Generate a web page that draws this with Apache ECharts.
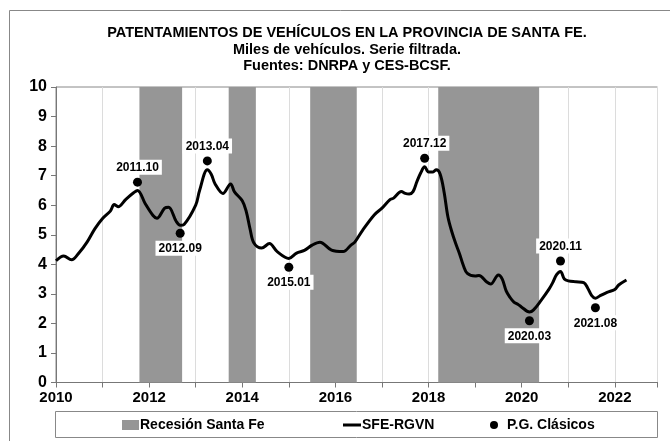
<!DOCTYPE html>
<html><head><meta charset="utf-8">
<script src="https://cdn.jsdelivr.net/npm/echarts@6/dist/echarts.min.js"></script>
<style>html,body{margin:0;padding:0;background:#fff}#c{width:670px;height:441px}</style>
</head><body><div id="c"></div>
<script>
const titleLines = ['PATENTAMIENTOS DE VEHÍCULOS EN LA PROVINCIA DE SANTA FE.', 'Miles de vehículos. Serie filtrada.', 'Fuentes: DNRPA y CES-BCSF.'];
const xTickLabels = ['2010','2012','2014','2016','2018','2020','2022'];
const xFirstMonth = '2010.01';
const xLastMonth = '2022.12';
const yMin = 0, yMax = 10, yStep = 1;

const seriesName = 'SFE-RGVN';
const months = ['2010.01','2010.03','2010.05','2010.07','2010.09','2010.11','2011.01','2011.03','2011.04','2011.05','2011.07','2011.09','2011.10','2011.12','2012.02','2012.03','2012.05','2012.06','2012.08','2012.09','2012.10','2013.01','2013.02','2013.04','2013.05','2013.06','2013.08','2013.10','2013.11','2014.01','2014.02','2014.03','2014.04','2014.06','2014.08','2014.10','2015.01','2015.03','2015.05','2015.07','2015.09','2015.12','2016.03','2016.05','2016.06','2016.08','2016.11','2017.01','2017.03','2017.04','2017.06','2017.07','2017.08','2017.09','2017.10','2017.11','2017.12','2018.01','2018.02','2018.03','2018.04','2018.05','2018.06','2018.07','2018.08','2018.09','2018.10','2018.11','2019.01','2019.02','2019.04','2019.05','2019.07','2019.08','2019.09','2019.10','2019.11','2019.12','2020.01','2020.03','2020.04','2020.06','2020.08','2020.09','2020.10','2020.11','2020.12','2021.01','2021.03','2021.05','2021.06','2021.07','2021.08','2021.09','2021.11','2022.01','2022.02','2022.04'];
const values = [4.12,4.28,4.15,4.4,4.75,5.2,5.55,5.8,6.02,5.95,6.2,6.42,6.5,6.05,5.65,5.56,5.9,5.93,5.45,5.32,5.35,6.0,6.5,7.2,7.05,6.72,6.4,6.72,6.45,6.15,5.8,5.2,4.72,4.55,4.7,4.43,4.2,4.38,4.47,4.65,4.75,4.48,4.43,4.65,4.75,5.15,5.67,5.9,6.18,6.24,6.46,6.4,6.38,6.46,6.8,7.1,7.3,7.12,7.12,7.2,7.05,6.45,5.6,5.1,4.7,4.35,3.95,3.69,3.6,3.62,3.4,3.33,3.64,3.5,3.1,2.88,2.72,2.65,2.55,2.39,2.45,2.78,3.15,3.38,3.65,3.76,3.5,3.44,3.41,3.38,3.2,2.95,2.85,2.92,3.05,3.15,3.3,3.47];

const pgName = 'P.G. Clásicos';
const pgMonths = ['2011.10','2012.09','2013.04','2015.01','2017.12','2020.03','2020.11','2021.08'];
const pgValues = [6.78,5.05,7.5,3.9,7.59,2.09,4.11,2.53];
const pgLabelSide = ['top','bottom','top','bottom','top','bottom','top','bottom'];

const recName = 'Recesión Santa Fe';
const recStart = ['2011.10','2013.09','2015.06','2018.03'];
const recEnd = ['2012.09','2014.04','2016.06','2020.05'];

function toYear(s){ const p = s.split('.').map(Number); return p[0] + (p[1]-1)/12; }
function toMid(s){ const p = s.split('.').map(Number); return p[0] + (p[1]-0.5)/12; }

const lineData = months.map((m,i)=>[toYear(m), values[i]]);
const pgData = pgMonths.map((m,i)=>({name:m, value:[toYear(m), pgValues[i]], label:{position:pgLabelSide[i]}}));
const recAreas = recStart.map((s,i)=>[{xAxis: toMid(s)}, {xAxis: toMid(recEnd[i])}]);

const FONT = 'Liberation Sans, Arial, sans-serif';
const legendText = {fontFamily:FONT, fontWeight:'bold', fontSize:14, color:'#000'};
const chart = echarts.init(document.getElementById('c'), null, {renderer:'canvas'});
chart.setOption({
  animation:false,
  backgroundColor:'#fff',
  title: titleLines.map((t,i)=>({
    text:t, left:347, textAlign:'center', top:[25,42,58][i], padding:0,
    textStyle:{fontFamily:FONT, fontWeight:'bold', fontSize:14.5, color:'#000'}
  })),
  graphic:[
    {type:'rect', shape:{x:9.5,y:10.5,width:700,height:500}, style:{fill:null, stroke:'#888', lineWidth:1}, silent:true},
    {type:'rect', shape:{x:55.5,y:411.5,width:602,height:26}, style:{fill:null, stroke:'#888', lineWidth:1}, silent:true}
  ],
  legend:[
    {data:[{name:recName, icon:'rect'}], left:122, top:418, itemWidth:17, itemHeight:10, itemGap:0, padding:0,
     textStyle:Object.assign({padding:[0,0,0,-4]}, legendText)},
    {data:[{name:seriesName, icon:'rect'}], left:343, top:418, itemWidth:18, itemHeight:3, itemGap:0, padding:0,
     itemStyle:{color:'#000'}, textStyle:Object.assign({padding:[0,0,0,-4]}, legendText)},
    {data:[{name:pgName, icon:'circle'}], left:490, top:418, itemWidth:16, itemHeight:8, itemGap:0, padding:0,
     itemStyle:{color:'#000', opacity:1}, textStyle:legendText}
  ],
  grid:{left:56, right:12.5, top:87, bottom:58.5, show:true, borderColor:'#888', borderWidth:1, backgroundColor:'#fff'},
  xAxis:{
    type:'value', min:toYear(xFirstMonth), max:toYear(xLastMonth), interval:1,
    axisLine:{show:true, lineStyle:{color:'#777', width:1}},
    axisTick:{show:true, length:5, lineStyle:{color:'#777'}},
    axisLabel:{show:true, margin:8, fontFamily:FONT, fontWeight:'bold', fontSize:15, color:'#000',
      formatter:(v)=>{ const s = String(Math.round(v*1000)/1000); return xTickLabels.includes(s) ? s : ''; }},
    splitLine:{show:true, lineStyle:{color:'#dcdcdc', width:1}}
  },
  yAxis:{
    type:'value', min:yMin, max:yMax, interval:yStep,
    axisLine:{show:true, lineStyle:{color:'#777', width:1}},
    axisTick:{show:true, length:5, lineStyle:{color:'#777'}},
    axisLabel:{margin:9, fontFamily:FONT, fontWeight:'bold', fontSize:16, color:'#000'},
    splitLine:{show:false}
  },
  series:[
    {name:recName, type:'bar', data:[], itemStyle:{color:'#969696'},
     markArea:{silent:true, itemStyle:{color:'#969696', opacity:1}, data:recAreas}},
    {name:seriesName, type:'line', data:lineData, symbol:'none', smooth:0.35,
     lineStyle:{color:'#000', width:3}, itemStyle:{color:'#000'}, z:3},
    {name:pgName, type:'scatter', data:pgData, symbol:'circle', symbolSize:9, itemStyle:{color:'#000', opacity:1}, z:4,
     label:{show:true, formatter:'{b}', distance:3, fontFamily:FONT, fontWeight:'bold', fontSize:12, color:'#000',
       backgroundColor:'#fff', padding:[2,3,1,3]}}
  ]
});
</script></body></html>
